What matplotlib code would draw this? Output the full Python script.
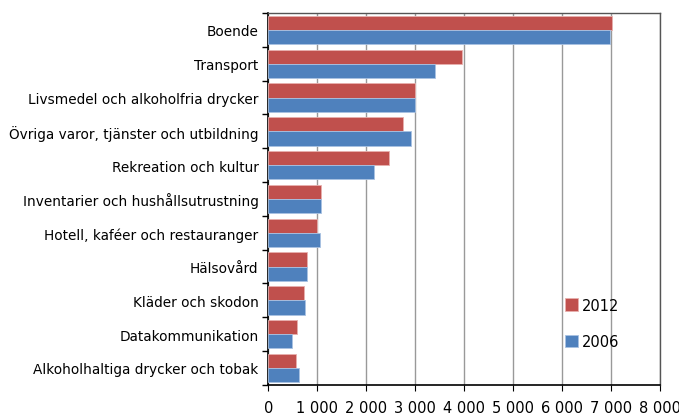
import numpy as np
import matplotlib.pyplot as plt
from matplotlib.ticker import FuncFormatter, FixedLocator

categories = ['Boende', 'Transport', 'Livsmedel och alkoholfria drycker',
              'Övriga varor, tjänster och utbildning', 'Rekreation och kultur',
              'Inventarier och hushållsutrustning', 'Hotell, kaféer och restauranger',
              'Hälsovård', 'Kläder och skodon', 'Datakommunikation',
              'Alkoholhaltiga drycker och tobak']
v2012 = [7030, 3950, 3005, 2750, 2460, 1080, 1005, 795, 725, 595, 565]
v2006 = [6980, 3400, 2995, 2910, 2165, 1080, 1060, 795, 760, 495, 630]

red = '#C0504D'
blue = '#4F81BD'

fig = plt.figure(figsize=(6.79, 4.14), dpi=100)
ax = fig.add_axes([0.395, 0.068, 0.577, 0.898])

y = np.arange(len(categories))
h = 0.42
ax.barh(y - h/2, v2012, height=h, color=red, edgecolor='#e8b0ae', linewidth=0.6, label='2012', zorder=3)
ax.barh(y + h/2, v2006, height=h, color=blue, edgecolor='#a9c2e2', linewidth=0.6, label='2006', zorder=3)

ax.set_ylim(len(categories) - 0.5, -0.5)
ax.set_xlim(0, 8000)
ax.set_xticks(np.arange(0, 8001, 1000))
ax.xaxis.set_major_formatter(FuncFormatter(lambda v, p: '{:,.0f}'.format(v).replace(',', ' ')))
ax.grid(axis='x', color='#999999', linewidth=1.0, zorder=0)

ax.set_yticks(y)
ax.set_yticklabels(categories, fontsize=9.8)
ax.tick_params(axis='y', which='major', length=0, pad=7)
ax.yaxis.set_minor_locator(FixedLocator(np.arange(-0.5, len(categories), 1)))
ax.tick_params(axis='y', which='minor', length=4, width=1, color='black')
ax.tick_params(axis='x', labelsize=10.5, length=4, color='black', pad=7)

for s in ['left', 'bottom']:
    ax.spines[s].set_color('black')
    ax.spines[s].set_linewidth(1.2)
for s in ['top', 'right']:
    ax.spines[s].set_color('#555555')
    ax.spines[s].set_linewidth(1.0)

ax.legend(loc='lower right', bbox_to_anchor=(0.93, 0.06), frameon=False,
          fontsize=10.5, handlelength=0.9, handleheight=0.9, labelspacing=1.5,
          handletextpad=0.25)

fig.savefig('out.png', dpi=100)
